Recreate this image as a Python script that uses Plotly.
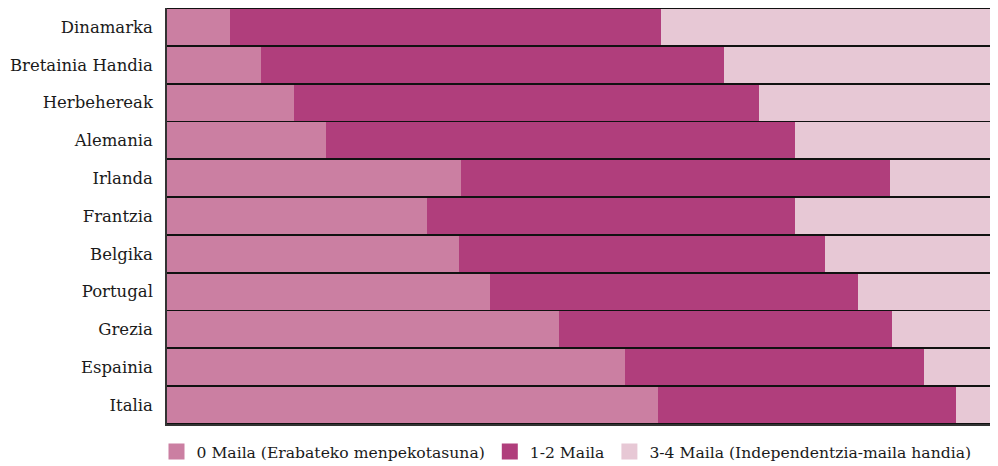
import plotly.graph_objects as go

countries = ["Dinamarka", "Bretainia Handia", "Herbehereak", "Alemania", "Irlanda",
             "Frantzia", "Belgika", "Portugal", "Grezia", "Espainia", "Italia"]
maila0 = [7.7, 11.4, 15.4, 19.3, 35.7, 31.6, 35.5, 39.2, 47.6, 55.7, 59.7]
maila12 = [52.3, 56.3, 56.5, 57.0, 52.1, 44.7, 44.5, 44.8, 40.5, 36.3, 36.2]
maila34 = [40.0, 32.3, 28.1, 23.7, 12.2, 23.7, 20.0, 16.0, 11.9, 8.0, 4.1]

series = [
    ("0 Maila (Erabateko menpekotasuna)", maila0, "#CB7FA2"),
    ("1-2 Maila", maila12, "#B03E7C"),
    ("3-4 Maila (Independentzia-maila handia)", maila34, "#E7C8D5"),
]

fig = go.Figure()
for name, vals, color in series:
    fig.add_trace(go.Bar(
        y=countries, x=vals, name=name, orientation="h",
        marker=dict(color=color, line=dict(width=0)),
        hoverinfo="x+y+name", showlegend=False, legendgroup=name,
    ))
for name, vals, color in series:
    fig.add_trace(go.Scatter(
        x=[None], y=[None], name=name, mode="markers", legendgroup=name,
        marker=dict(symbol="square", size=16, color=color, line=dict(width=0)),
        showlegend=True,
    ))

# the page body adds an 8px offset, so the figure is sized to fit the window
fig.update_layout(
    barmode="stack",
    bargap=0.05,
    width=990, height=458,
    margin=dict(l=159, r=8, t=0, b=42, autoexpand=False),
    paper_bgcolor="white",
    plot_bgcolor="#111111",
    font=dict(family="DejaVu Serif", size=16.5, color="#1a1a1a"),
    showlegend=True,
    legend=dict(orientation="h", xref="container", yref="container",
                x=0.15, xanchor="left", y=0.068, yanchor="top",
                font=dict(size=15.6), traceorder="normal", itemwidth=30),
    xaxis=dict(range=[0, 100], showgrid=False, zeroline=False, showticklabels=False,
               showline=True, mirror=True, linecolor="#333333", linewidth=1.5,
               fixedrange=True, automargin=False),
    yaxis=dict(autorange="reversed", showgrid=False, ticks="", ticklabelstandoff=9,
               showline=True, mirror=True, linecolor="#333333", linewidth=1.5,
               automargin=False),
)

fig.write_html("out.html")
